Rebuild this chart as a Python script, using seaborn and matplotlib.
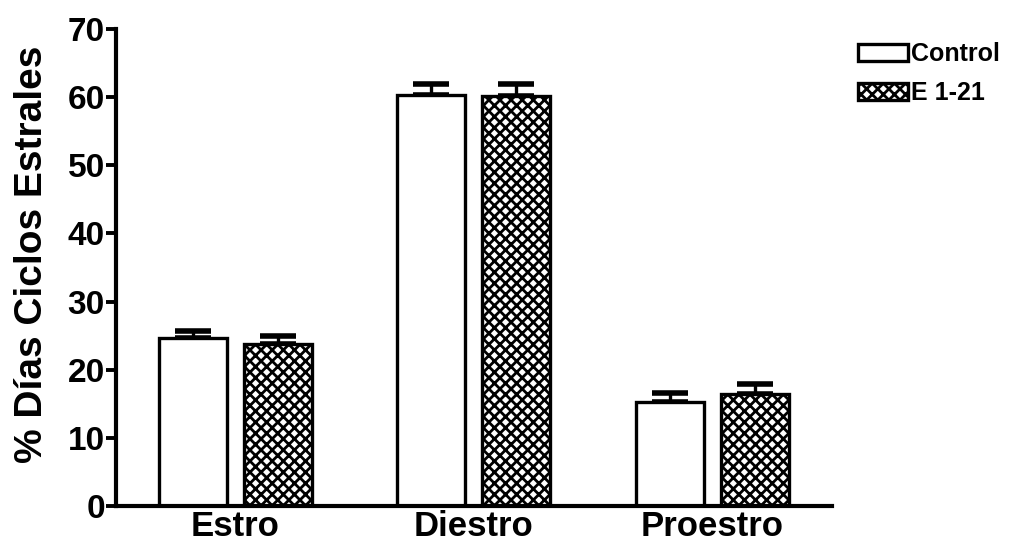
import matplotlib
matplotlib.use("Agg")
import matplotlib.pyplot as plt
import seaborn as sns
import pandas as pd
from matplotlib.patches import Patch

categories = ["Estro", "Diestro", "Proestro"]
groups = ["Control", "E 1-21"]
control_vals = [24.6, 60.3, 15.3]
control_err = [1.1, 1.7, 1.3]
e121_vals = [23.8, 60.2, 16.4]
e121_err = [1.2, 1.8, 1.5]
yticks = [0, 10, 20, 30, 40, 50, 60, 70]

sns.set_theme(style="ticks")
plt.rcParams["font.family"] = ["Liberation Sans", "DejaVu Sans"]
plt.rcParams["font.weight"] = "bold"
plt.rcParams["hatch.linewidth"] = 2.0
plt.rcParams["hatch.color"] = "black"
plt.rcParams["text.color"] = "black"
plt.rcParams["axes.labelcolor"] = "black"
plt.rcParams["xtick.color"] = "black"
plt.rcParams["ytick.color"] = "black"

df = pd.DataFrame({
    "cat": categories * 2,
    "grp": [groups[0]] * 3 + [groups[1]] * 3,
    "val": control_vals + e121_vals,
    "err": control_err + e121_err,
})

fig = plt.figure(figsize=(10.17, 5.54), dpi=100)
ax = fig.add_axes([0.114, 0.0866, 0.704, 0.861])

sns.barplot(data=df, x="cat", y="val", hue="grp", order=categories,
            hue_order=groups, palette=["white", "white"], width=0.712,
            gap=0.2, edgecolor="black", linewidth=2.4, errorbar=None,
            legend=False, ax=ax)

hatches = ["", "xxx"]
bars = [p for p in ax.patches]
for i, p in enumerate(bars):
    gi = i // 3
    p.set_hatch(hatches[gi])
    p.set_edgecolor("black")
    p.set_facecolor("white")
    p.set_zorder(2)

# upward-only error bars
for i, p in enumerate(bars):
    gi, ci = i // 3, i % 3
    err = [control_err, e121_err][gi][ci]
    xc = p.get_x() + p.get_width() / 2
    h = p.get_height()
    ax.errorbar([xc], [h], yerr=[[0], [err]], fmt="none", ecolor="black",
                elinewidth=2.4, capsize=13, capthick=4, zorder=1)

ax.set_xlim(-0.5, 2.5)
ax.set_ylim(0, 70)
ax.set_yticks(yticks)
ax.set_yticklabels([str(t) for t in yticks], fontsize=24, fontweight="bold")
ax.set_xticks(range(len(categories)))
ax.set_xticklabels(categories, fontsize=25, fontweight="bold")
ax.tick_params(axis="y", length=7, width=2.8, pad=1, direction="out")
ax.tick_params(axis="x", length=0, pad=3)
ax.set_xlabel("")
ax.set_ylabel("% Días Ciclos Estrales", fontsize=28, fontweight="bold")
ax.yaxis.set_label_coords(-0.092, 0.528)
for s in ["top", "right"]:
    ax.spines[s].set_visible(False)
for s in ["left", "bottom"]:
    ax.spines[s].set_linewidth(3.0)
    ax.spines[s].set_color("black")

handles = [Patch(facecolor="white", edgecolor="black", linewidth=2.4, hatch=h, label=g)
           for h, g in zip(hatches, groups)]
fig.legend(handles=handles, loc="upper left", bbox_to_anchor=(0.831, 0.946),
           frameon=False, prop={"weight": "bold", "size": 18},
           handlelength=2.0, handleheight=0.68, handletextpad=0.12,
           borderpad=0, labelspacing=0.6)

fig.savefig("out.png", dpi=100)
